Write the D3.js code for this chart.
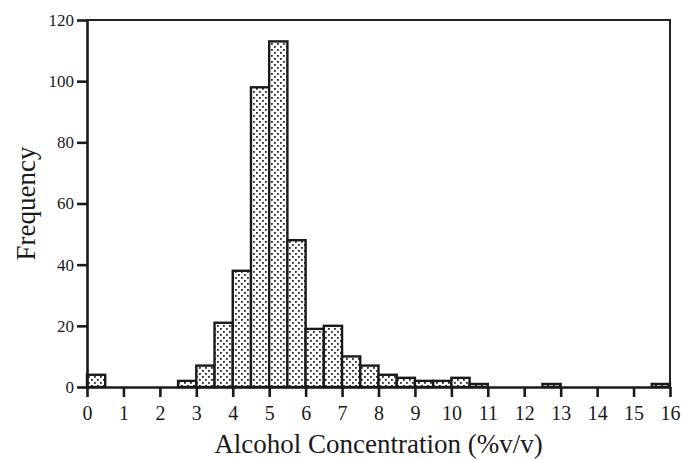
<!DOCTYPE html>
<html>
<head>
<meta charset="utf-8">
<script src="https://cdn.jsdelivr.net/npm/d3@7/dist/d3.min.js"></script>
<style>
  body { margin: 0; background: #fff; }
  svg text { font-family: "Liberation Serif", "Times New Roman", serif; fill: #1a1a1a; }
</style>
</head>
<body>
<div id="plot"></div>
<script>
// bin lower edges (%v/v), each bin 0.5 wide
const binStarts = d3.range(0, 16, 0.5);
// frequency per bin
const counts = [4, 0, 0, 0, 0, 2, 7, 21, 38, 98, 113, 48, 19, 20, 10, 7,
                4, 3, 2, 2, 3, 1, 0, 0, 0, 1, 0, 0, 0, 0, 0, 1];
const xTicks = d3.range(0, 17, 1);
const yTicks = [0, 20, 40, 60, 80, 100, 120];

const width = 682;
const height = 460;
const margin = {top: 20, right: 12, bottom: 73, left: 87};

const svg = d3.select("div#plot")
  .append("svg")
  .attr("width", width)
  .attr("height", height);

const x = d3.scaleLinear()
  .domain([0, 16])
  .range([margin.left, width - margin.right]);

const y = d3.scaleLinear()
  .domain([0, 120])
  .range([height - margin.bottom, margin.top]);

// dotted fill for bars
const pat = svg.append("defs").append("pattern")
  .attr("id", "dots")
  .attr("patternUnits", "userSpaceOnUse")
  .attr("width", 6)
  .attr("height", 6);
pat.append("rect").attr("width", 6).attr("height", 6).attr("fill", "#fff");
pat.append("rect").attr("x", 1).attr("y", 1).attr("width", 1.8).attr("height", 1.8).attr("fill", "#2a2a2a");
pat.append("rect").attr("x", 4).attr("y", 4).attr("width", 1.8).attr("height", 1.8).attr("fill", "#2a2a2a");

const bins = binStarts.map((b, i) => ({x0: b, x1: b + 0.5, n: counts[i]}));

svg.append("g")
  .selectAll("rect")
  .data(bins.filter(d => d.n > 0))
  .enter()
  .append("rect")
  .attr("x", d => x(d.x0))
  .attr("y", d => y(d.n))
  .attr("width", d => x(d.x1) - x(d.x0))
  .attr("height", d => y(0) - y(d.n))
  .attr("fill", "url(#dots)")
  .attr("stroke", "#1a1a1a")
  .attr("stroke-width", 2.4);

// frame: top and right edges
svg.append("path")
  .attr("d", `M${x(0)},${y(120)}H${x(16)}V${y(0)}`)
  .attr("fill", "none")
  .attr("stroke", "#222")
  .attr("stroke-width", 2);

// axes
const xAxis = d3.axisBottom(x)
  .tickValues(xTicks)
  .tickFormat(d3.format("d"))
  .tickSize(10)
  .tickSizeOuter(0);

const gx = svg.append("g")
  .attr("transform", `translate(0,${y(0)})`)
  .call(xAxis);

const yAxis = d3.axisLeft(y)
  .tickValues(yTicks)
  .tickSize(10)
  .tickSizeOuter(0);

const gy = svg.append("g")
  .attr("transform", `translate(${x(0)},0)`)
  .call(yAxis);

[gx, gy].forEach(g => {
  g.select(".domain").attr("stroke", "#1a1a1a").attr("stroke-width", 2.6);
  g.selectAll(".tick line").attr("stroke", "#1a1a1a").attr("stroke-width", 2.6);
  g.selectAll(".tick text")
    .style("font-family", "Liberation Serif, serif")
    .attr("fill", "#1a1a1a");
});
gx.selectAll(".tick text").attr("dy", "1.0em").style("font-size", "20px");
gy.selectAll(".tick text").attr("x", -13).style("font-size", "17px");

// titles
svg.append("text")
  .attr("x", (x(0) + x(16)) / 2)
  .attr("y", 453)
  .attr("text-anchor", "middle")
  .style("font-size", "27px")
  .text("Alcohol Concentration (%v/v)");

svg.append("text")
  .attr("transform", `translate(35,${(y(0) + y(120)) / 2}) rotate(-90)`)
  .attr("text-anchor", "middle")
  .style("font-size", "27px")
  .text("Frequency");
</script>
</body>
</html>
